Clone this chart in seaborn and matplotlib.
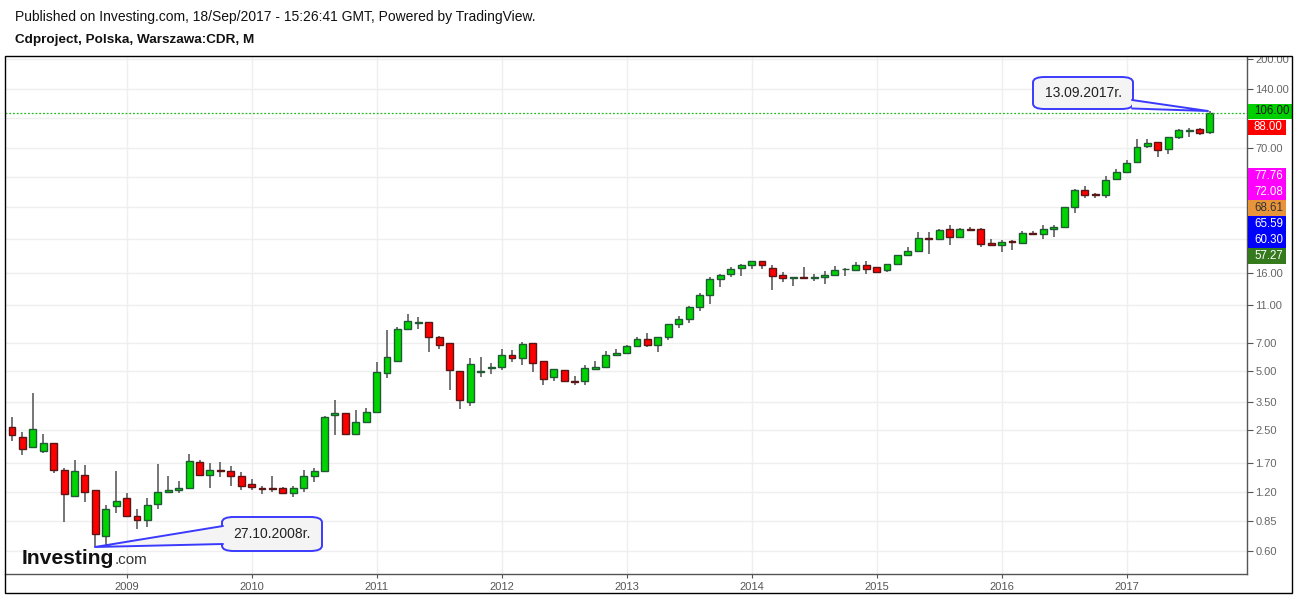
import numpy as np
import pandas as pd
import matplotlib
matplotlib.use("Agg")
import matplotlib.pyplot as plt
import seaborn as sns
from matplotlib.patches import Rectangle, FancyBboxPatch, Polygon
from matplotlib.lines import Line2D
from matplotlib.ticker import FixedLocator, FixedFormatter, NullLocator

# ---------------- data (monthly, Feb 2008 - Sep 2017) ----------------
months = pd.date_range("2008-02-01", "2017-09-01", freq="MS")

opens = [2.58, 2.30, 2.06, 1.95, 2.14, 1.56, 1.15, 1.48, 1.23, 0.72, 1.02,
         1.12, 0.91, 0.87, 1.05, 1.21, 1.23, 1.26, 1.71, 1.47, 1.56, 1.54, 1.45,
         1.32, 1.26, 1.26, 1.26, 1.19, 1.26, 1.45, 1.54, 2.98, 3.05, 2.38, 2.74,
         3.09, 4.89, 5.64, 8.23, 8.88, 8.93, 7.48, 6.97, 5.01, 3.48, 4.95, 5.19,
         5.25, 6.05, 5.84, 6.97, 5.64, 4.66, 5.07, 4.46, 4.45, 5.13, 5.25, 6.05,
         6.20, 6.73, 7.31, 6.81, 7.48, 8.73, 9.26, 10.66, 12.29, 14.85, 15.76, 16.91,
         17.52, 18.38, 16.91, 15.57, 15.03, 15.20, 15.15, 15.20, 15.57, 16.68, 16.52, 17.52,
         17.12, 16.52, 17.73, 19.72, 20.67, 24.10, 23.81, 26.80, 24.38, 26.80, 26.80, 22.72,
         22.19, 23.26, 22.72, 25.57, 25.27, 26.80, 27.44, 34.75, 42.50, 40.53, 40.06, 48.40,
         52.56, 59.16, 71.47, 74.93, 68.98, 79.49, 86.00, 87.37, 84.33]
highs = [2.93, 2.45, 3.89, 2.39, 2.15, 1.59, 1.76, 1.66, 1.24, 1.03, 1.55,
         1.19, 0.99, 1.12, 1.68, 1.45, 1.37, 1.89, 1.75, 1.69, 1.71, 1.63, 1.52,
         1.40, 1.30, 1.45, 1.27, 1.30, 1.57, 1.59, 2.94, 3.56, 3.06, 3.17, 3.25,
         5.59, 8.16, 8.45, 9.86, 9.52, 8.97, 7.58, 6.98, 5.01, 5.84, 5.91, 5.51,
         6.49, 6.42, 7.06, 7.00, 5.66, 5.15, 5.08, 4.72, 5.38, 5.64, 6.35, 6.49,
         6.81, 7.48, 7.85, 7.51, 8.76, 9.59, 10.79, 12.59, 15.20, 15.76, 17.12, 17.73,
         18.40, 18.44, 17.52, 16.13, 15.20, 17.12, 15.76, 16.33, 17.32, 16.91, 18.16, 18.38,
         17.12, 17.73, 19.72, 21.66, 25.87, 25.87, 26.80, 28.10, 27.12, 27.44, 27.12, 23.81,
         23.54, 23.54, 26.17, 26.17, 28.21, 28.10, 34.75, 43.01, 44.57, 41.31, 50.15, 54.46,
         60.57, 77.63, 77.63, 74.93, 79.49, 87.37, 88.41, 88.41, 108.05]
lows = [2.21, 1.86, 2.02, 1.90, 1.50, 0.84, 1.14, 1.07, 0.63, 0.64, 0.94,
        0.90, 0.78, 0.80, 0.99, 1.20, 1.19, 1.25, 1.47, 1.26, 1.43, 1.30, 1.24,
        1.24, 1.17, 1.20, 1.17, 1.13, 1.20, 1.35, 1.53, 2.35, 2.35, 2.37, 2.71,
        3.05, 4.64, 5.62, 8.20, 8.29, 6.31, 6.54, 4.03, 3.22, 3.31, 4.66, 4.85,
        5.07, 5.57, 5.38, 4.95, 4.25, 4.45, 4.44, 4.25, 4.25, 5.12, 5.19, 5.98,
        6.12, 6.72, 6.65, 6.31, 7.22, 8.32, 8.83, 10.18, 11.06, 13.51, 15.20, 15.38,
        16.72, 16.72, 13.04, 14.34, 13.68, 15.03, 14.51, 14.00, 15.54, 15.38, 16.33, 15.76,
        15.94, 16.13, 17.73, 19.72, 20.43, 19.96, 23.76, 22.19, 24.10, 26.17, 21.66, 22.14,
        20.43, 20.92, 22.72, 25.27, 24.04, 24.56, 27.38, 32.39, 38.66, 38.66, 38.66, 48.40,
        51.95, 58.46, 69.80, 62.76, 65.02, 77.63, 79.49, 81.39, 82.37]
closes = [2.35, 1.99, 2.52, 2.14, 1.57, 1.17, 1.54, 1.20, 0.73, 0.99, 1.08,
          0.91, 0.86, 1.03, 1.20, 1.23, 1.26, 1.73, 1.48, 1.57, 1.54, 1.45, 1.29,
          1.27, 1.25, 1.25, 1.19, 1.26, 1.45, 1.54, 2.91, 3.05, 2.38, 2.74, 3.09,
          4.95, 5.91, 8.23, 9.04, 8.93, 7.48, 6.81, 5.07, 3.56, 5.44, 5.01, 5.25,
          6.05, 5.84, 6.89, 5.51, 4.56, 5.13, 4.45, 4.43, 5.19, 5.25, 6.05, 6.20,
          6.73, 7.31, 6.81, 7.48, 8.73, 9.26, 10.66, 12.29, 14.85, 15.57, 16.72, 17.52,
          18.38, 17.52, 15.38, 15.03, 15.20, 15.15, 15.20, 15.57, 16.52, 16.72, 17.52, 16.72,
          16.13, 17.73, 19.72, 20.67, 24.10, 23.81, 26.49, 24.38, 26.80, 26.48, 22.46, 22.19,
          22.99, 22.99, 25.57, 25.48, 26.99, 27.44, 34.75, 42.50, 40.06, 40.06, 47.83, 52.56,
          58.46, 70.63, 74.05, 68.17, 79.49, 86.34, 86.34, 83.33, 106.00]

year_labels = ["2009", "2010", "2011", "2012", "2013", "2014", "2015", "2016", "2017"]
price_ticks = [0.60, 0.85, 1.20, 1.70, 2.50, 3.50, 5.00, 7.00, 11.00, 16.00,
               24.00, 35.00, 50.00, 70.00, 100.00, 140.00, 200.00]
hidden_ticks = [24.00, 35.00, 50.00, 100.00]
side_labels = ["106.00", "88.00", "77.76", "72.08", "68.61", "65.59", "60.30", "57.27"]
last_close = 106.00
low_label = "27.10.2008r."
high_label = "13.09.2017r."

df = pd.DataFrame({"month": months, "open": opens, "high": highs,
                   "low": lows, "close": closes})
df["idx"] = np.arange(len(df))
df["up"] = df["close"] >= df["open"]
df["bottom"] = df[["open", "close"]].min(axis=1)
df["body"] = (df["close"] - df["open"]).abs()

# ---------------- style ----------------
sns.set_theme(style="white")
plt.rcParams['font.family'] = ['Liberation Sans', 'DejaVu Sans']

W, H = 1299, 598
fig = plt.figure(figsize=(W / 100, H / 100), dpi=100)
fig.patch.set_facecolor("white")


def fx(x):
    return x / W


def fy(y):
    return 1 - y / H


ax = fig.add_axes([fx(5), fy(574), fx(1247) - fx(5), fy(56) - fy(574)])
ax.set_facecolor("white")

# wicks
ax.vlines(df["idx"], df["low"], df["high"], color="#6a6a6a", lw=1.3, zorder=2)
# bodies
g = df[df["up"]]
r = df[~df["up"]]
ax.bar(g["idx"], g["body"], bottom=g["bottom"], width=0.66, color="#00d400",
       edgecolor="#1f5a34", linewidth=1.0, zorder=3)
ax.bar(r["idx"], r["body"], bottom=r["bottom"], width=0.66, color="#ff0000",
       edgecolor="#5a1515", linewidth=1.0, zorder=3)

ax.set_yscale("log")
ax.set_ylim(0.457, 207.7)
ax.set_xlim(-0.672, 118.56)

# y axis on the right
ax.yaxis.set_major_locator(FixedLocator(price_ticks))
ax.yaxis.set_major_formatter(FixedFormatter(
    ["" if t in hidden_ticks else f"{t:.2f}" for t in price_ticks]))
ax.yaxis.set_minor_locator(NullLocator())
ax.yaxis.tick_right()
ax.tick_params(axis="y", which="major", right=True, left=False, length=4, width=0.8,
               color="#555555", labelcolor="#666666", labelsize=8, pad=2)

# x axis: years at January positions
jan_idx = df.loc[df["month"].dt.month == 1, "idx"].tolist()
ax.xaxis.set_major_locator(FixedLocator(jan_idx))
ax.xaxis.set_major_formatter(FixedFormatter(year_labels))
ax.tick_params(axis="x", which="major", bottom=True, length=3, width=0.8,
               color="#555555", labelcolor="#555555", labelsize=8, pad=2.5)

ax.grid(True, which="major", color="#efefef", lw=1, zorder=0)
ax.set_axisbelow(True)
for s in ["top", "left"]:
    ax.spines[s].set_visible(False)
for s in ["right", "bottom"]:
    ax.spines[s].set_color("#555555")
    ax.spines[s].set_linewidth(1)

# last price dotted line
ax.axhline(last_close, color="#22bb22", lw=0.9, ls=(0, (1.5, 1.5)), zorder=4)

# ---------------- callouts ----------------
def callout(box, base1, base2, tip, text):
    x0, y0, x1, y1 = box
    bb = FancyBboxPatch((fx(x0), fy(y1)), fx(x1) - fx(x0), fy(y0) - fy(y1),
                        boxstyle="round,pad=0,rounding_size=0.009",
                        transform=fig.transFigure, facecolor="#f4f4f4",
                        edgecolor="#3a3aff", lw=1.4, zorder=20)
    fig.add_artist(bb)
    pts = [(fx(base1[0]), fy(base1[1])), (fx(tip[0]), fy(tip[1])),
           (fx(base2[0]), fy(base2[1]))]
    fig.add_artist(Polygon(pts, closed=True, transform=fig.transFigure,
                           facecolor="#f4f4f4", edgecolor="none", zorder=21))
    fig.add_artist(Line2D([pts[0][0], pts[1][0], pts[2][0]],
                          [pts[0][1], pts[1][1], pts[2][1]],
                          transform=fig.transFigure, color="#3a3aff", lw=1.4,
                          zorder=22))
    fig.text(fx((x0 + x1) / 2), fy((y0 + y1) / 2), text, ha="center", va="center",
             fontsize=10, color="#222222", zorder=23)


callout((1033, 77, 1133, 109), (1132, 100), (1132, 108.5), (1208, 111), high_label)
callout((222, 517, 322, 551), (223, 526), (223, 544), (95, 547), low_label)

# ---------------- right-side price labels ----------------
boxes = [
    (104, 119, 1293, "#00d000", "#1a1a1a"),
    (120, 135, 1286, "#ff0000", "white"),
    (168, 183.5, 1286, "#ff00ff", "white"),
    (183.5, 200, 1286, "#ff00ff", "white"),
    (200, 216, 1286, "#e8943a", "#333333"),
    (216, 232, 1286, "#0000ff", "white"),
    (232, 248, 1286, "#0000ff", "white"),
    (248, 263.5, 1286, "#367a1e", "white"),
]
for (y0, y1, xr, fc, tc), lab in zip(boxes, side_labels):
    fig.add_artist(Rectangle((fx(1248), fy(y1)), fx(xr) - fx(1248), fy(y0) - fy(y1),
                             transform=fig.transFigure, facecolor=fc,
                             edgecolor="none", zorder=30))
    fig.text(fx(1254), fy((y0 + y1) / 2), lab, ha="left", va="center",
             fontsize=8.3, color=tc, zorder=31)

# white mask above plot top (clips the 200.00 label)
fig.add_artist(Rectangle((fx(1240), fy(55.5)), fx(1299) - fx(1240), fy(0) - fy(55.5),
                         transform=fig.transFigure, facecolor="white",
                         edgecolor="none", zorder=40))

# outer frame
fig.add_artist(Rectangle((fx(5), fy(593)), fx(1292) - fx(5), fy(56) - fy(593),
                         transform=fig.transFigure, facecolor="none",
                         edgecolor="black", lw=1, zorder=50))

# ---------------- titles ----------------
fig.text(fx(15), fy(17), "Published on Investing.com, 18/Sep/2017 - 15:26:41 GMT, Powered by TradingView.",
         ha="left", va="center", fontsize=10, color="#111111")
fig.text(fx(15), fy(40), "Cdproject, Polska, Warszawa:CDR, M",
         ha="left", va="center", fontsize=9.7, fontweight="bold", color="#111111")

# ---------------- logo ----------------
t_inv = fig.text(fx(22), fy(564), "Investing", ha="left", va="baseline", fontsize=15.2,
                 fontweight="bold", color="#111111", zorder=25)
fig.canvas.draw()
bb_inv = t_inv.get_window_extent(renderer=fig.canvas.get_renderer())
fig.text(bb_inv.x1 / W + 0.5 / W, fy(564), ".com", ha="left", va="baseline", fontsize=11,
         color="#333333", zorder=25)

fig.savefig("out.png", dpi=100)
